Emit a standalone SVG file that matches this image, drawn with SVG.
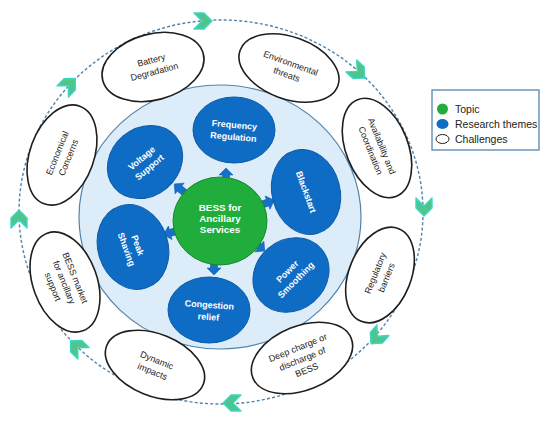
<svg xmlns="http://www.w3.org/2000/svg" width="550" height="424" viewBox="0 0 550 424">
<style>
.ring{fill:none;stroke:#4f84ad;stroke-width:1.4;stroke-dasharray:3 2.2}
.chev{fill:#4fc48b;stroke:#3ad8c6;stroke-width:1.4;stroke-linejoin:round}
.ch{fill:#fff;stroke:#1e1e1e;stroke-width:1.6}
.cht{font-family:"Liberation Sans",Arial,sans-serif;font-size:9px;fill:#222;text-anchor:middle}
.th{fill:#0e6cc4;stroke:#0b5aa6;stroke-width:1}
.tht{font-family:"Liberation Sans",Arial,sans-serif;font-size:9px;font-weight:bold;fill:#fff;text-anchor:middle}
.tpt{font-family:"Liberation Sans",Arial,sans-serif;font-size:9.8px;font-weight:bold;fill:#fff;text-anchor:middle}
.barrow{fill:#1670c8;stroke:#0f5fae;stroke-width:0.6}
.lg{font-family:"Liberation Sans",Arial,sans-serif;font-size:10.5px;fill:#222}
</style>
<defs>
<polygon id="chevron" points="-9,-8 1,-8 9,0 1,8 -9,8 -1,0"/>
<polygon id="barrow" points="0,-3.5 7,-3.5 7,-7 14,0 7,7 7,3.5 0,3.5"/>
</defs>

<g id="connectors">
<ellipse class="ring" cx="221" cy="212" rx="202" ry="192"/>
<use href="#chevron" class="chev" transform="translate(203,21)"/>
<use href="#chevron" class="chev" transform="translate(358,72) rotate(42)"/>
<use href="#chevron" class="chev" transform="translate(424,207) rotate(90)"/>
<use href="#chevron" class="chev" transform="translate(377,337) rotate(131)"/>
<use href="#chevron" class="chev" transform="translate(232,403) rotate(180)"/>
<use href="#chevron" class="chev" transform="translate(77,347) rotate(-136)"/>
<use href="#chevron" class="chev" transform="translate(19,219) rotate(-90)"/>
<use href="#chevron" class="chev" transform="translate(69,85) rotate(-46)"/>
</g>

<g id="services-area">
<ellipse cx="220" cy="217" rx="141" ry="132" fill="#dcecf9" stroke="#5183ab" stroke-width="1.2"/>
</g>

<g id="challenge-battery">
<ellipse class="ch" cx="153" cy="67" rx="52" ry="33" transform="rotate(-15 153 67)"/>
<g transform="rotate(-15 153 67)"><text class="cht" x="153" y="63">Battery</text><text class="cht" x="153" y="75">Degradation</text></g>
</g>
<g id="challenge-environmental">
<ellipse class="ch" cx="289" cy="68" rx="52" ry="31" transform="rotate(20 289 68)"/>
<g transform="rotate(20 289 68)"><text class="cht" x="289" y="66">Environmental</text><text class="cht" x="289" y="78">threats</text></g>
</g>
<g id="challenge-availability">
<ellipse class="ch" cx="377" cy="148" rx="31" ry="52" transform="rotate(-22 377 148)"/>
<g transform="rotate(68 377 148)"><text class="cht" x="377" y="146">Availability and</text><text class="cht" x="377" y="158">Coordination</text></g>
</g>
<g id="challenge-regulatory">
<ellipse class="ch" cx="380" cy="275" rx="31" ry="50" transform="rotate(22 380 275)"/>
<g transform="rotate(-68 380 275)"><text class="cht" x="380" y="273">Regulatory</text><text class="cht" x="380" y="285">barriers</text></g>
</g>
<g id="challenge-deep">
<ellipse class="ch" cx="302" cy="358" rx="53" ry="32" transform="rotate(-22 302 358)"/>
<g transform="rotate(-22 302 358)"><text class="cht" x="302" y="350">Deep charge or</text><text class="cht" x="302" y="362">discharge of</text><text class="cht" x="302" y="374">BESS</text></g>
</g>
<g id="challenge-dynamic">
<ellipse class="ch" cx="155" cy="365" rx="52" ry="31" transform="rotate(22 155 365)"/>
<g transform="rotate(22 155 365)"><text class="cht" x="155" y="363">Dynamic</text><text class="cht" x="155" y="375">impacts</text></g>
</g>
<g id="challenge-market">
<ellipse class="ch" cx="65" cy="282" rx="32" ry="52" transform="rotate(-20 65 282)"/>
<g transform="rotate(68 65 282)"><text class="cht" x="65" y="274">BESS market</text><text class="cht" x="65" y="286">for ancillary</text><text class="cht" x="65" y="298">support</text></g>
</g>
<g id="challenge-economical">
<ellipse class="ch" cx="62" cy="155" rx="32" ry="52" transform="rotate(20 62 155)"/>
<g transform="rotate(-68 62 155)"><text class="cht" x="62" y="153">Economical</text><text class="cht" x="62" y="165">Concerns</text></g>
</g>

<g id="arrows-inner">
<use href="#barrow" class="barrow" transform="translate(226,182) rotate(-90)"/>
<use href="#barrow" class="barrow" transform="translate(185,193) rotate(-140)"/>
<use href="#barrow" class="barrow" transform="translate(261,205) rotate(-20)"/>
<use href="#barrow" class="barrow" transform="translate(254,242) rotate(40)"/>
<use href="#barrow" class="barrow" transform="translate(214,261) rotate(90)"/>
<use href="#barrow" class="barrow" transform="translate(177,231) rotate(165)"/>
</g>

<g id="theme-frequency">
<ellipse class="th" cx="234" cy="130" rx="41" ry="33"/>
<g transform="rotate(5 234 130)"><text class="tht" x="234" y="128">Frequency</text><text class="tht" x="234" y="140">Regulation</text></g>
</g>
<g id="theme-voltage">
<ellipse class="th" cx="145" cy="162" rx="40" ry="34" transform="rotate(-40 145 162)"/>
<g transform="rotate(-40 145 162)"><text class="tht" x="145" y="160">Voltage</text><text class="tht" x="145" y="172">Support</text></g>
</g>
<g id="theme-blackstart">
<ellipse class="th" cx="306" cy="192" rx="34" ry="43" transform="rotate(-15 306 192)"/>
<text class="tht" x="306" y="195" transform="rotate(70 306 192)">Blackstart</text>
</g>
<g id="theme-power">
<ellipse class="th" cx="291" cy="275" rx="40" ry="35" transform="rotate(-40 291 275)"/>
<g transform="rotate(-45 291 275)"><text class="tht" x="291" y="273">Power</text><text class="tht" x="291" y="285">Smoothing</text></g>
</g>
<g id="theme-congestion">
<ellipse class="th" cx="209" cy="310" rx="41" ry="33"/>
<g transform="rotate(4 209 310)"><text class="tht" x="209" y="308">Congestion</text><text class="tht" x="209" y="320">relief</text></g>
</g>
<g id="theme-peak">
<ellipse class="th" cx="133" cy="247" rx="35" ry="43" transform="rotate(-18 133 247)"/>
<g transform="rotate(70 133 247)"><text class="tht" x="133" y="245">Peak</text><text class="tht" x="133" y="257">Shaving</text></g>
</g>

<g id="topic">
<ellipse cx="220" cy="221" rx="47" ry="44" fill="#20ad3b" stroke="#178a2e" stroke-width="1"/>
<text class="tpt" x="220" y="211">BESS for</text>
<text class="tpt" x="220" y="222">Ancillary</text>
<text class="tpt" x="220" y="233">Services</text>
</g>

<g id="legend">
<rect x="432" y="90" width="107" height="60" fill="#fff" stroke="#5f8fb8" stroke-width="1.4"/>
<circle cx="442.5" cy="109" r="5.5" fill="#20ad3b"/>
<text class="lg" x="455" y="113">Topic</text>
<ellipse cx="442.5" cy="124" rx="6" ry="5" fill="#0e6cc4"/>
<text class="lg" x="455" y="128">Research themes</text>
<ellipse cx="442.5" cy="139" rx="6.5" ry="4.5" fill="#fff" stroke="#222" stroke-width="1"/>
<text class="lg" x="455" y="143">Challenges</text>
</g>
</svg>
